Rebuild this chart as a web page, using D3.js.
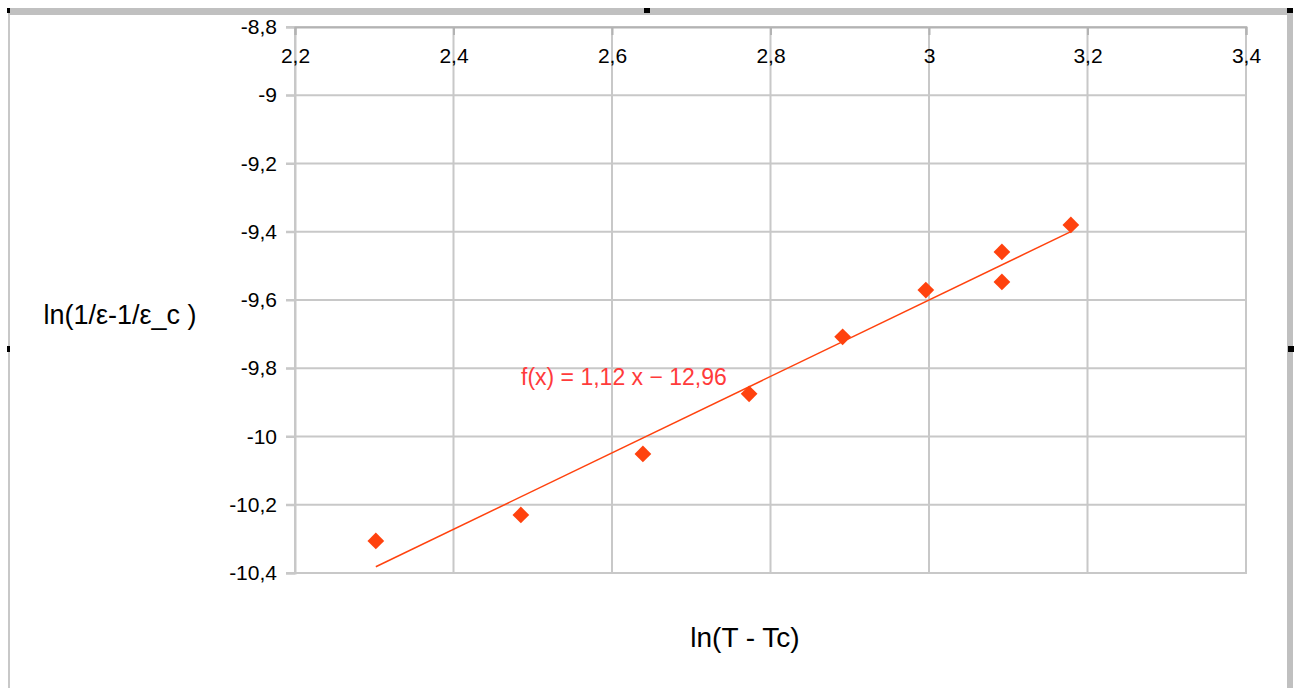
<!DOCTYPE html>
<html>
<head>
<meta charset="utf-8">
<script src="https://cdn.jsdelivr.net/npm/d3@7"></script>
<style>
  body { margin: 0; background: #fff; }
  text { font-family: "Liberation Sans", Arial, sans-serif; }
</style>
</head>
<body>
<script>
// data
const xValues = [2.302, 2.485, 2.639, 2.773, 2.891, 2.996, 3.092, 3.092, 3.179];
const yValues = [-10.306, -10.230, -10.051, -9.875, -9.708, -9.571, -9.459, -9.547, -9.380];
const xTicks = [2.2, 2.4, 2.6, 2.8, 3, 3.2, 3.4];
const yTicks = [-8.8, -9, -9.2, -9.4, -9.6, -9.8, -10, -10.2, -10.4];
const trendSlope = 1.12;
const trendIntercept = -12.96;
const trendLabel = 'f(x) = 1,12 x − 12,96';
const xTitle = 'ln(T - Tc)';
const yTitle = 'ln(1/ε-1/ε_c )';

const width = 1298;
const height = 688;
const margin = { top: 27, right: 52, bottom: 115, left: 295 };

const locale = d3.formatLocale({ decimal: ',', thousands: '.', grouping: [3], currency: ['', ''], minus: '-' });
const fmt = locale.format('.1~f');

const svg = d3.select('body').append('svg')
    .attr('width', width)
    .attr('height', height);

svg.append('rect').attr('width', width).attr('height', height).attr('fill', '#fff');

// window frame of the screenshot
svg.append('rect').attr('x', 8).attr('y', 8).attr('width', 1280).attr('height', 7).attr('fill', '#c0c0c0');
svg.append('rect').attr('x', 8).attr('y', 15).attr('width', 2).attr('height', height - 15).attr('fill', '#c8c8c8');
svg.append('rect').attr('x', 1287).attr('y', 13).attr('width', 6).attr('height', height - 13).attr('fill', '#c0c0c0');
[[7, 8, 3, 5], [644, 8, 6, 5], [1287, 8, 6, 5], [7, 346, 3, 6], [1288, 346, 6, 6]].forEach(h => {
    svg.append('rect').attr('x', h[0]).attr('y', h[1]).attr('width', h[2]).attr('height', h[3]).attr('fill', '#000');
});

const xScale = d3.scaleLinear()
    .domain([2.2, 3.4])
    .range([margin.left, width - margin.right]);
const yScale = d3.scaleLinear()
    .domain([-8.8, -10.4])
    .range([margin.top, height - margin.bottom]);

const x0 = xScale.range()[0], x1 = xScale.range()[1];
const y0 = yScale.range()[0], y1 = yScale.range()[1];

// grid
svg.append('g').selectAll('line').data(xTicks).enter().append('line')
    .attr('x1', d => xScale(d)).attr('x2', d => xScale(d))
    .attr('y1', y0).attr('y2', y1)
    .attr('stroke', '#c8c8c8').attr('stroke-width', 2);
svg.append('g').selectAll('line').data(yTicks).enter().append('line')
    .attr('x1', x0 - 9).attr('x2', x1)
    .attr('y1', d => yScale(d)).attr('y2', d => yScale(d))
    .attr('stroke', '#c8c8c8').attr('stroke-width', 2);

// plot frame
svg.append('rect')
    .attr('x', x0).attr('y', y0).attr('width', x1 - x0).attr('height', y1 - y0)
    .attr('fill', 'none').attr('stroke', '#c8c8c8').attr('stroke-width', 2);

const yAxis = d3.axisLeft(yScale).tickValues(yTicks).tickFormat(fmt).tickSize(9).tickPadding(9);
const gy = svg.append('g')
    .attr('transform', `translate(${x0}, 0)`)
    .call(yAxis);
gy.select('.domain').attr('stroke', '#c8c8c8').attr('stroke-width', 2);
gy.selectAll('.tick line').attr('stroke', '#c8c8c8').attr('stroke-width', 2);
gy.selectAll('.tick text').attr('font-size', 21).attr('fill', '#000')
    .attr('font-family', '"Liberation Sans", Arial, sans-serif');

// x axis sits at the top, labels below the line
const xAxis = d3.axisBottom(xScale).tickValues(xTicks).tickFormat(fmt).tickSize(8).tickPadding(13);
const gx = svg.append('g')
    .attr('transform', `translate(0, ${y0})`)
    .call(xAxis);
gx.select('.domain').attr('stroke', '#b3b3b3').attr('stroke-width', 2);
gx.selectAll('.tick line').attr('stroke', '#b3b3b3').attr('stroke-width', 2);
gx.selectAll('.tick text').attr('font-size', 21).attr('fill', '#000')
    .attr('font-family', '"Liberation Sans", Arial, sans-serif');

// trend line
const xExtent = d3.extent(xValues);
svg.append('line')
    .attr('x1', xScale(xExtent[0])).attr('y1', yScale(trendSlope * xExtent[0] + trendIntercept))
    .attr('x2', xScale(xExtent[1])).attr('y2', yScale(trendSlope * xExtent[1] + trendIntercept))
    .attr('stroke', '#ff420e').attr('stroke-width', 1.5);

// points
const symbol = d3.symbol().type(d3.symbolSquare).size(140);
svg.append('g').selectAll('path').data(xValues).enter().append('path')
    .attr('d', symbol)
    .attr('transform', (d, i) => `translate(${xScale(d)}, ${yScale(yValues[i])}) rotate(45)`)
    .attr('fill', '#ff420e');

// equation
svg.append('text')
    .attr('x', 521).attr('y', yScale(-9.848))
    .attr('font-size', 23).attr('fill', '#ff3b3b')
    .text(trendLabel);

// titles
svg.append('text')
    .attr('x', 745).attr('y', 647)
    .attr('text-anchor', 'middle')
    .attr('font-size', 28).attr('fill', '#000')
    .text(xTitle);
svg.append('text')
    .attr('x', 120).attr('y', 324)
    .attr('text-anchor', 'middle')
    .attr('font-size', 27).attr('fill', '#000')
    .text(yTitle);
</script>
</body>
</html>
